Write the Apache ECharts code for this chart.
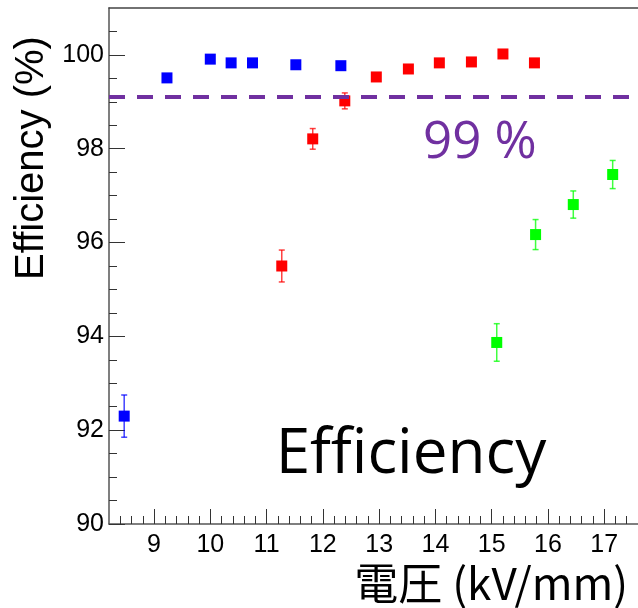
<!DOCTYPE html>
<html>
<head>
<meta charset="utf-8">
<script src="https://cdn.jsdelivr.net/npm/echarts@6/dist/echarts.min.js"></script>
<style>
    html, body { margin: 0; padding: 0; background: #fff; }
    #chart { width: 638px; height: 608px; }
</style>
</head>
<body>
<div id="chart"></div>
<script>
    // data
    const blueX = [8.47, 9.23, 10.0, 10.37, 10.75, 11.52, 12.32];
    const blueY = [92.30, 99.51, 99.91, 99.83, 99.83, 99.79, 99.77];
    const blueErr = [0.45, 0.07, 0.04, 0.04, 0.04, 0.04, 0.04];

    const redX = [11.27, 11.82, 12.39, 12.95, 13.52, 14.07, 14.64, 15.20, 15.76];
    const redY = [95.50, 98.21, 99.02, 99.53, 99.70, 99.83, 99.85, 100.02, 99.83];
    const redErr = [0.34, 0.22, 0.17, 0.05, 0.04, 0.03, 0.03, 0.03, 0.03];

    const greenX = [15.09, 15.78, 16.45, 17.15];
    const greenY = [93.87, 96.17, 96.81, 97.45];
    const greenErr = [0.40, 0.32, 0.29, 0.30];

    const threshold = 99.1;

    const xMajor = [9, 10, 11, 12, 13, 14, 15, 16, 17];
    const yMajor = [90, 92, 94, 96, 98, 100];

    // minor tick positions
    const xMinor = [];
    for (let i = 1; i <= 47; i++) xMinor.push(+(8.2 + i * 0.2).toFixed(1));
    const yMinor = [];
    for (let i = 1; i <= 21; i++) yMinor.push(90 + i * 0.5);

    const toPoints = (xs, ys) => xs.map((x, i) => [x, ys[i]]);
    const toErr = (xs, ys, es) => xs.map((x, i) => [x, ys[i] - es[i], ys[i] + es[i]]);

    const errorBars = (name, color, data) => ({
        name: name,
        type: 'custom',
        z: 2,
        renderItem: function (params, api) {
            const x = api.value(0);
            const lo = api.coord([x, api.value(1)]);
            const hi = api.coord([x, api.value(2)]);
            const cap = 3;
            const style = { stroke: color, lineWidth: 1.5, opacity: 0.75 };
            return {
                type: 'group',
                children: [
                    { type: 'line', shape: { x1: lo[0], y1: lo[1], x2: hi[0], y2: hi[1] }, style: style },
                    { type: 'line', shape: { x1: lo[0] - cap, y1: lo[1], x2: lo[0] + cap, y2: lo[1] }, style: style },
                    { type: 'line', shape: { x1: hi[0] - cap, y1: hi[1], x2: hi[0] + cap, y2: hi[1] }, style: style }
                ]
            };
        },
        data: data
    });

    const points = (name, color, data) => ({
        name: name,
        type: 'scatter',
        z: 3,
        symbol: 'rect',
        symbolSize: 11,
        itemStyle: { color: color, opacity: 1 },
        data: data
    });

    const axisColor = '#555';
    const tickFont = { fontSize: 25, color: '#000', fontFamily: 'Liberation Sans' };

    const myChart = echarts.init(document.getElementById('chart'));
    myChart.setOption({
        animation: false,
        grid: { left: 109, right: 0, top: 8, bottom: 84 },
        xAxis: [
            {
                type: 'value', min: 8.2, max: 17.6, position: 'bottom',
                axisLine: { lineStyle: { color: axisColor, width: 1.5 } },
                axisTick: { inside: true, length: 15, customValues: xMajor, lineStyle: { color: '#333' } },
                axisLabel: Object.assign({ customValues: xMajor, margin: 9 }, tickFont),
                splitLine: { show: false }
            },
            {
                type: 'value', min: 8.2, max: 17.6, position: 'bottom',
                axisLine: { show: false },
                axisTick: { inside: true, length: 8, customValues: xMinor, lineStyle: { color: '#333' } },
                axisLabel: { show: false },
                splitLine: { show: false }
            },
            {
                type: 'value', min: 8.2, max: 17.6, position: 'top',
                axisLine: { lineStyle: { color: '#444', width: 1.5 } },
                axisTick: { show: false },
                axisLabel: { show: false },
                splitLine: { show: false }
            }
        ],
        yAxis: [
            {
                type: 'value', min: 90, max: 101, position: 'left',
                axisLine: { show: true, lineStyle: { color: axisColor, width: 1.5 } },
                axisTick: { show: true, inside: true, length: 16, customValues: yMajor, lineStyle: { color: '#333' } },
                axisLabel: Object.assign({ customValues: yMajor, margin: 5 }, tickFont),
                splitLine: { show: false }
            },
            {
                type: 'value', min: 90, max: 101, position: 'left',
                axisLine: { show: false },
                axisTick: { show: true, inside: true, length: 8, customValues: yMinor, lineStyle: { color: '#333' } },
                axisLabel: { show: false },
                splitLine: { show: false }
            }
        ],
        series: [
            errorBars('blueErr', '#0000ff', toErr(blueX, blueY, blueErr)),
            errorBars('redErr', '#ff0000', toErr(redX, redY, redErr)),
            errorBars('greenErr', '#00ff00', toErr(greenX, greenY, greenErr)),
            Object.assign(points('blue', '#0000ff', toPoints(blueX, blueY)), {
                markLine: {
                    silent: true,
                    symbol: ['none', 'none'],
                    label: { show: false },
                    lineStyle: { color: '#7030a0', width: 4, type: [16, 12] },
                    data: [{ yAxis: threshold }]
                }
            }),
            points('red', '#ff0000', toPoints(redX, redY)),
            points('green', '#00ff00', toPoints(greenX, greenY))
        ],
        graphic: [
            {
                type: 'text', x: 423, y: 143,
                style: { text: '99 %', fill: '#7030a0', fontSize: 51, fontFamily: 'Open Sans', align: 'left', verticalAlign: 'middle' }
            },
            {
                type: 'text', x: 411, y: 455,
                style: { text: 'Efficiency', fill: '#000', fontSize: 62, fontFamily: 'Open Sans', align: 'center', verticalAlign: 'middle' }
            },
            {
                type: 'text', x: 32, y: 158, rotation: Math.PI / 2,
                style: { text: 'Efficiency (%)', fill: '#000', fontSize: 40, fontFamily: 'Liberation Sans', align: 'center', verticalAlign: 'middle' }
            },
            {
                type: 'text', x: 628, y: 583,
                style: { text: '電圧 (kV/mm)', fill: '#000', fontSize: 44, fontFamily: 'Noto Sans CJK JP', align: 'right', verticalAlign: 'middle' }
            }
        ]
    });
</script>
</body>
</html>
